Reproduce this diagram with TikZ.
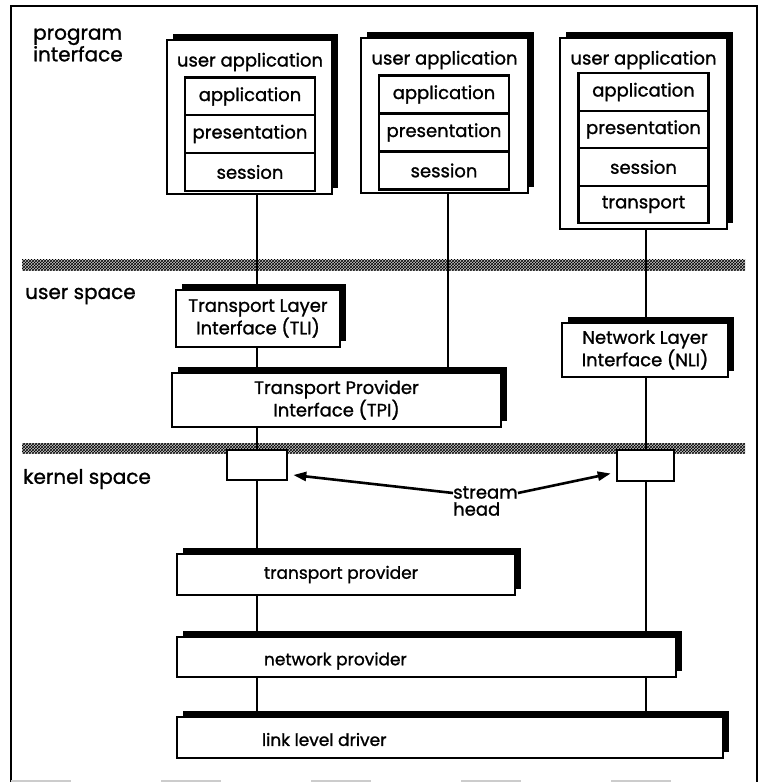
\documentclass[tikz,border=0pt]{standalone}
\usepackage{fontspec}
\setmainfont{Poppins}[FakeBold=1.2]
\usetikzlibrary{arrows.meta,shadows,patterns}
\pgfdeclarelayer{bands}
\pgfdeclarelayer{links}
\pgfsetlayers{bands,links,main}

\begin{document}
\begin{tikzpicture}[x=1pt,y=-1pt,
  every node/.style={font=\fontsize{18}{21}\selectfont, inner sep=0pt},
  spacelabel/.style={anchor=west, align=left, font=\fontsize{20}{17}\selectfont},
  shbox/.style={draw, line width=2.4pt, fill=white,
    general shadow={fill=black, shadow xshift=6pt, shadow yshift=6pt}},
  row/.style={draw, line width=2.4pt, fill=white, minimum width=130pt},
  shead/.style={draw, line width=2.6pt, fill=white},
  lowbox/.style={shbox},
  lowtext/.style={anchor=west, xshift=88pt, font=\fontsize{17}{20}\selectfont},
  link/.style={line width=2.3pt},
  arr/.style={line width=2.6pt, -{Triangle[length=13pt,width=9pt]}},
  band/.style={pattern=crosshatch, pattern color=black}
]
\useasboundingbox (0,0) rectangle (762,783);

% outer frame, open bottom edge drawn faint
\draw[line width=2pt] (11,782) -- (11,6) -- (757,6) -- (757,782);
\draw[gray!40, line width=1.2pt, dash pattern=on 60pt off 90pt] (11,781) -- (757,781);

% layer labels
\node[spacelabel] (lprog) at (33,45) {program\\interface};
\node[spacelabel] (luser) at (25,296) {user space};
\node[spacelabel] (lkern) at (23,479) {kernel space};

% user applications
\node[shbox, minimum width=165pt, minimum height=154pt] (ua1) at (249.5,117) {};
\node (ua1t) at (250,62) {user application};
\node[row, minimum height=38pt] (ua1a) at (250,96.5) {application};
\node[row, minimum height=38pt] (ua1p) at (250,134) {presentation};
\node[row, minimum height=38pt] (ua1s) at (250,172) {session};

\node[shbox, minimum width=167pt, minimum height=155pt] (ua2) at (444.5,115.5) {};
\node (ua2t) at (444.5,60) {user application};
\node[row, minimum height=38pt] (ua2a) at (444,94.5) {application};
\node[row, minimum height=38pt] (ua2p) at (444,132.5) {presentation};
\node[row, minimum height=38pt] (ua2s) at (444,170.5) {session};

\node[shbox, minimum width=167pt, minimum height=191pt] (ua3) at (643.5,133.5) {};
\node (ua3t) at (643.5,60) {user application};
\node[row, minimum height=37.5pt] (ua3a) at (643.5,92) {application};
\node[row, minimum height=37.5pt] (ua3p) at (643.5,129.5) {presentation};
\node[row, minimum height=37.5pt] (ua3s) at (643.5,167) {session};
\node[row, minimum height=37.5pt] (ua3t4) at (643.5,204.5) {transport};

% user space interfaces
\node[shbox, align=center, minimum width=164pt, minimum height=57pt] (tli) at (258,318.5) {Transport Layer\\Interface (TLI)};
\node[shbox, align=center, minimum width=329pt, minimum height=54pt] (tpi) at (336.5,400) {Transport Provider\\Interface (TPI)};
\node[shbox, align=center, minimum width=166pt, minimum height=54pt] (nli) at (645,350) {Network Layer\\Interface (NLI)};

% stream heads
\node[shead, minimum width=60pt, minimum height=30pt] (sh1) at (257,465) {};
\node[shead, minimum width=57pt, minimum height=31pt] (sh2) at (645.5,465.5) {};
\node[anchor=west, align=left, font=\fontsize{18}{17}\selectfont] (shl) at (453,501) {stream\\head};

% kernel modules
\node[lowbox, minimum width=338pt, minimum height=41pt,
  label={[lowtext]west:transport provider}] (tp) at (346,574.5) {};
\node[lowbox, minimum width=499pt, minimum height=40pt,
  label={[lowtext, yshift=-4pt]west:network provider}] (np) at (426.5,657) {};
\node[lowbox, minimum width=546pt, minimum height=41pt,
  label={[lowtext, xshift=-2pt, yshift=-2pt]west:link level driver}] (lld) at (450,737.5) {};

\draw[arr] ([yshift=8pt]shl.west) -- ([shift={(5pt,-10pt)}]sh1.east);
\draw[arr] ([yshift=8pt]shl.east) -- ([shift={(-5pt,-8pt)}]sh2.west);

% hatched space boundaries
\begin{pgfonlayer}{bands}
\fill[gray!45] (22,260) rectangle (745,270);
\fill[band] (22,260) rectangle (745,270);
\fill[gray!45] (22,443) rectangle (745,453);
\fill[band] (22,443) rectangle (745,453);
\end{pgfonlayer}

% vertical paths through the stack
\coordinate (c1) at (257,0);
\coordinate (c2) at (448,0);
\coordinate (c3) at (646,0);
\begin{pgfonlayer}{links}
\draw[link] (ua1.south -| c1) -- (tli.north -| c1);
\draw[link] (tli.south -| c1) -- (tpi.north -| c1);
\draw[link] (tpi.south -| c1) -- (sh1.north -| c1);
\draw[link] (sh1.south -| c1) -- (tp.north -| c1);
\draw[link] (tp.south -| c1) -- (np.north -| c1);
\draw[link] (np.south -| c1) -- (lld.north -| c1);
\draw[link] (ua2.south -| c2) -- (tpi.north -| c2);
\draw[link] (ua3.south -| c3) -- (nli.north -| c3);
\draw[link] (nli.south -| c3) -- (sh2.north -| c3);
\draw[link] (sh2.south -| c3) -- (np.north -| c3);
\draw[link] (np.south -| c3) -- (lld.north -| c3);
\end{pgfonlayer}
\end{tikzpicture}
\end{document}
